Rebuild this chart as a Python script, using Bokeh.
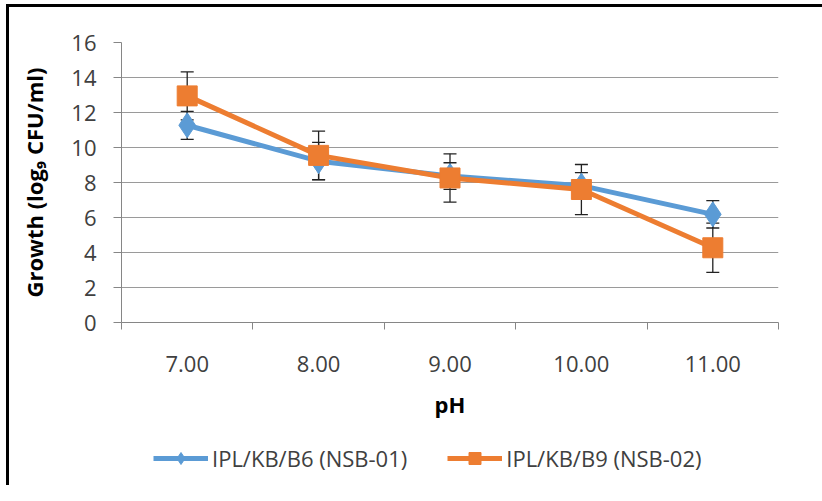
import numpy as np
from bokeh.plotting import figure
from bokeh.layouts import column
from bokeh.models import (ColumnDataSource, FixedTicker, Range1d, Whisker, TeeHead,
                          Legend, LegendItem)
from bokeh.embed import file_html
from bokeh.resources import INLINE

# ---- data ----
ph_labels = ["7.00", "8.00", "9.00", "10.00", "11.00"]
nsb01 = [11.27, 9.22, 8.37, 7.82, 6.18]
nsb01_err = [0.80, 1.07, 0.76, 0.75, 0.78]
nsb02 = [12.95, 9.55, 8.26, 7.60, 4.27]
nsb02_err = [1.37, 1.39, 1.38, 1.43, 1.41]
series_names = ["IPL/KB/B6 (NSB-01)", "IPL/KB/B9 (NSB-02)"]
y_ticks = [0, 2, 4, 6, 8, 10, 12, 14, 16]

BLUE = "#5B9BD5"
ORANGE = "#ED7D31"
GREY = "#868686"
TEXT = "#404040"
FONT = "Open Sans"
W = 813

xs = list(np.arange(len(ph_labels)) + 1)
bounds = [x - 0.5 for x in xs] + [xs[-1] + 0.5]

src1 = ColumnDataSource(dict(x=xs, y=nsb01,
                             lo=[v - e for v, e in zip(nsb01, nsb01_err)],
                             hi=[v + e for v, e in zip(nsb01, nsb01_err)]))
src2 = ColumnDataSource(dict(x=xs, y=nsb02,
                             lo=[v - e for v, e in zip(nsb02, nsb02_err)],
                             hi=[v + e for v, e in zip(nsb02, nsb02_err)]))

p = figure(width=W, height=423, output_backend="svg", toolbar_location=None,
           x_range=Range1d(bounds[0], bounds[-1]), y_range=Range1d(0, 16),
           min_border_left=112, min_border_right=W - 112 - 657, min_border_top=35,
           min_border_bottom=108)
p.outline_line_color = None
p.background_fill_color = "white"
p.border_fill_color = "white"

# grid
p.xgrid.grid_line_color = None
p.ygrid.ticker = FixedTicker(ticks=y_ticks)
p.ygrid.grid_line_color = "#9A9A9A"
p.ygrid.grid_line_width = 1

# y axis
p.yaxis.ticker = FixedTicker(ticks=y_ticks)
p.yaxis.axis_line_color = GREY
p.yaxis.major_tick_line_color = GREY
p.yaxis.major_tick_out = 8
p.yaxis.major_tick_in = 0
p.yaxis.minor_tick_line_color = None
p.yaxis.major_label_text_font = FONT
p.yaxis.major_label_text_font_size = "22px"
p.yaxis.major_label_text_color = TEXT
p.yaxis.major_label_standoff = 17
p.yaxis.axis_label = "Growth (log\u2089 CFU/ml)"
p.yaxis.axis_label_text_font = FONT
p.yaxis.axis_label_text_font_size = "22px"
p.yaxis.axis_label_text_font_style = "bold"
p.yaxis.axis_label_text_color = "black"
p.yaxis.axis_label_standoff = 19

# x axis
p.xaxis.ticker = FixedTicker(ticks=xs, minor_ticks=bounds)
p.xaxis.major_label_overrides = {int(x): lab for x, lab in zip(xs, ph_labels)}
p.xaxis.axis_line_color = GREY
p.xaxis.major_tick_line_color = None
p.xaxis.major_tick_out = 0
p.xaxis.major_tick_in = 0
p.xaxis.minor_tick_line_color = GREY
p.xaxis.minor_tick_out = 7
p.xaxis.minor_tick_in = 0
p.xaxis.major_label_text_font = FONT
p.xaxis.major_label_text_font_size = "22px"
p.xaxis.major_label_text_color = TEXT
p.xaxis.major_label_standoff = 26
p.xaxis.axis_label = "pH"
p.xaxis.axis_label_text_font = FONT
p.xaxis.axis_label_text_font_size = "22px"
p.xaxis.axis_label_text_font_style = "bold"
p.xaxis.axis_label_text_color = "black"
p.xaxis.axis_label_standoff = 14

# error bars
for src in (src1, src2):
    w = Whisker(source=src, base="x", lower="lo", upper="hi", dimension="height",
                line_color="#222222", line_width=1.3,
                upper_head=TeeHead(size=13, line_color="#222222", line_width=1.3),
                lower_head=TeeHead(size=13, line_color="#222222", line_width=1.3))
    p.add_layout(w)

# series
p.line("x", "y", source=src1, line_color=BLUE, line_width=5)
p.scatter("x", "y", source=src1, marker="diamond", size=25,
          fill_color=BLUE, line_color=BLUE)
p.line("x", "y", source=src2, line_color=ORANGE, line_width=5)
p.scatter("x", "y", source=src2, marker="square", size=20,
          fill_color=ORANGE, line_color=ORANGE)

# legend strip: a separate figure below the chart; it holds the same series
# (outside its visible ranges) only so that the legend can draw their styles
pl = figure(width=W, height=55, output_backend="svg", toolbar_location=None,
            x_range=Range1d(-2, -1), y_range=Range1d(-2, -1),
            x_axis_location=None, y_axis_location=None,
            min_border=0, min_border_left=0, min_border_right=0,
            min_border_top=0, min_border_bottom=0)
pl.grid.visible = False
pl.outline_line_color = None
pl.background_fill_color = "white"
pl.border_fill_color = "white"
ll1 = pl.line("x", "y", source=src1, line_color=BLUE, line_width=5)
lm1 = pl.scatter("x", "y", source=src1, marker="diamond", size=16,
                 fill_color=BLUE, line_color=BLUE)
ll2 = pl.line("x", "y", source=src2, line_color=ORANGE, line_width=5)
lm2 = pl.scatter("x", "y", source=src2, marker="square", size=14,
                 fill_color=ORANGE, line_color=ORANGE)

legend = Legend(items=[LegendItem(label=series_names[0], renderers=[ll1, lm1]),
                       LegendItem(label=series_names[1], renderers=[ll2, lm2])],
                orientation="horizontal", location=(32, 12),
                label_text_font=FONT, label_text_font_size="22px",
                label_text_color=TEXT, glyph_width=55, glyph_height=30,
                label_standoff=4, spacing=40, margin=0, padding=0,
                border_line_color=None, background_fill_alpha=0)
pl.add_layout(legend, "center")

layout = column(p, pl, spacing=0,
                styles={"margin-left": "6px", "margin-top": "4px",
                        "border-top": "3px solid black",
                        "border-left": "3px solid black"})

open("out.html", "w").write(file_html(layout, INLINE))
